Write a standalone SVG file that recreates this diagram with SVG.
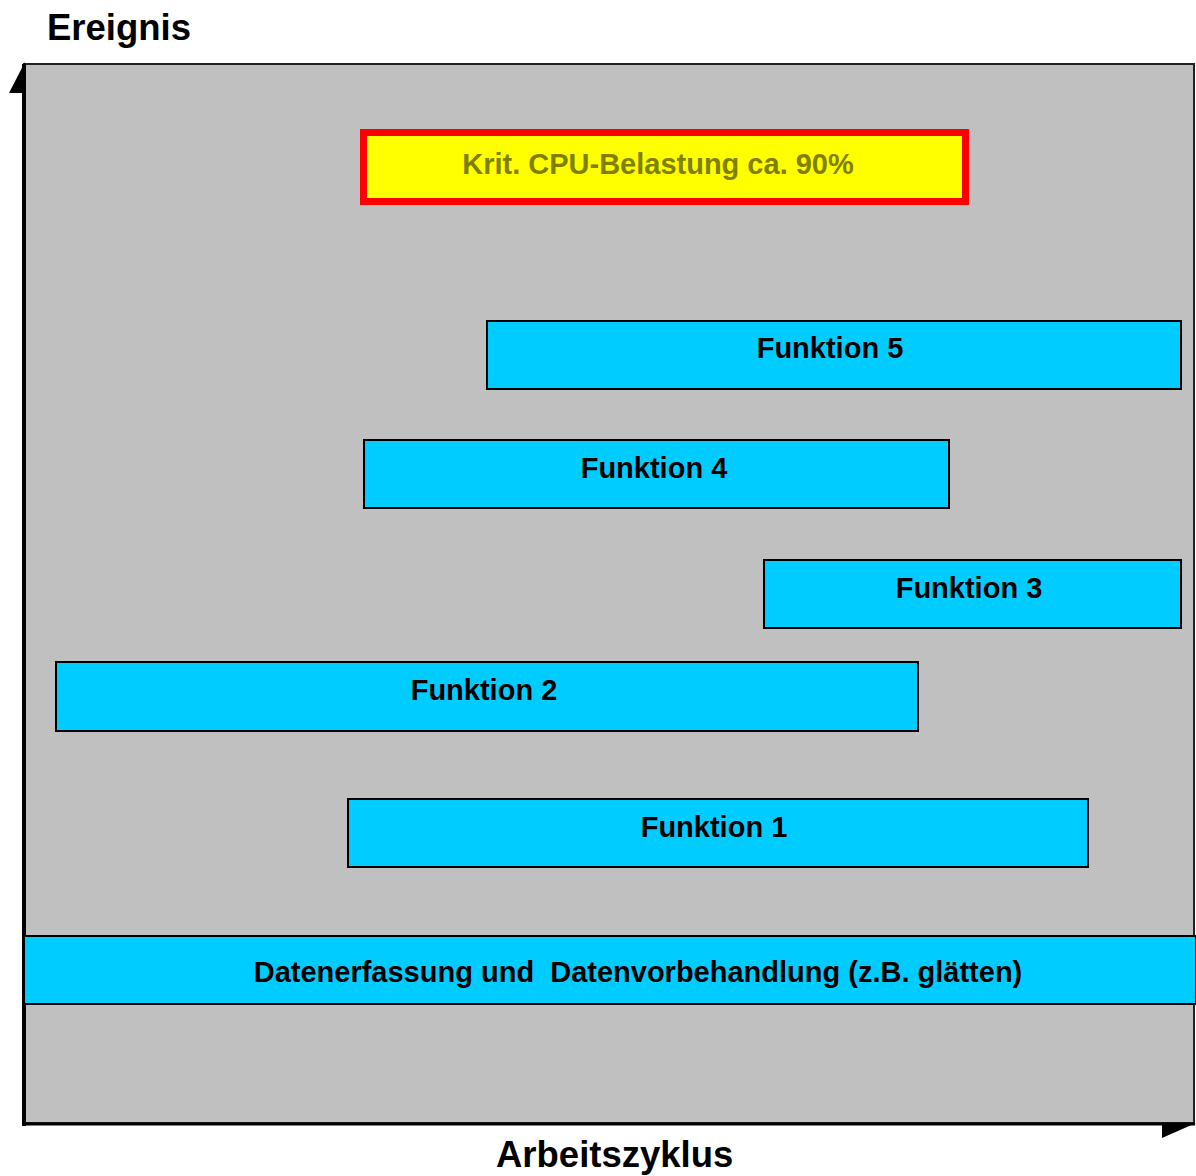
<svg xmlns="http://www.w3.org/2000/svg" width="1196" height="1176" viewBox="0 0 1196 1176">
<style>
.f{fill:#00CCFF;stroke:#000;stroke-width:2}
.t{font-family:"Liberation Sans",Arial,sans-serif;font-weight:bold;font-size:29px;fill:#000;text-anchor:middle}
.ax{font-family:"Liberation Sans",Arial,sans-serif;font-weight:bold;font-size:36.5px;fill:#000}
</style>
<rect width="1196" height="1176" fill="#fff"/>
<g id="background">
<rect x="24" y="64" width="1170" height="1059" fill="#C0C0C0" stroke="#222" stroke-width="2"/>
</g>
<g id="connectors">
<line x1="24" y1="64" x2="24" y2="1126" stroke="#000" stroke-width="4"/>
<polygon points="25,62 9,93 25,93" fill="#000"/>
<line x1="22" y1="1124" x2="1195" y2="1124" stroke="#000" stroke-width="3"/>
<polygon points="1162,1123 1196,1123 1162,1138" fill="#000"/>
</g>
<g id="krit">
<rect x="363.5" y="132.5" width="602" height="69" fill="#FFFF00" stroke="#FF0000" stroke-width="7"/>
<text class="t" x="658" y="174" style="fill:#808000">Krit. CPU-Belastung ca. 90%</text>
</g>
<g id="f5"><rect class="f" x="487" y="321" width="694" height="68"/><text class="t" x="830" y="358">Funktion 5</text></g>
<g id="f4"><rect class="f" x="364" y="440" width="585" height="68"/><text class="t" x="654" y="478">Funktion 4</text></g>
<g id="f3"><rect class="f" x="764" y="560" width="417" height="68"/><text class="t" x="969" y="598">Funktion 3</text></g>
<g id="f2"><rect class="f" x="56" y="662" width="862" height="69"/><text class="t" x="484" y="700">Funktion 2</text></g>
<g id="f1"><rect class="f" x="348" y="799" width="740" height="68"/><text class="t" x="714" y="837">Funktion 1</text></g>
<g id="data"><rect class="f" x="24" y="936" width="1172" height="68"/><text class="t" x="638" y="982" xml:space="preserve">Datenerfassung und  Datenvorbehandlung (z.B. glätten)</text></g>
<text class="ax" x="47" y="40">Ereignis</text>
<text class="ax" x="496" y="1167">Arbeitszyklus</text>
</svg>
